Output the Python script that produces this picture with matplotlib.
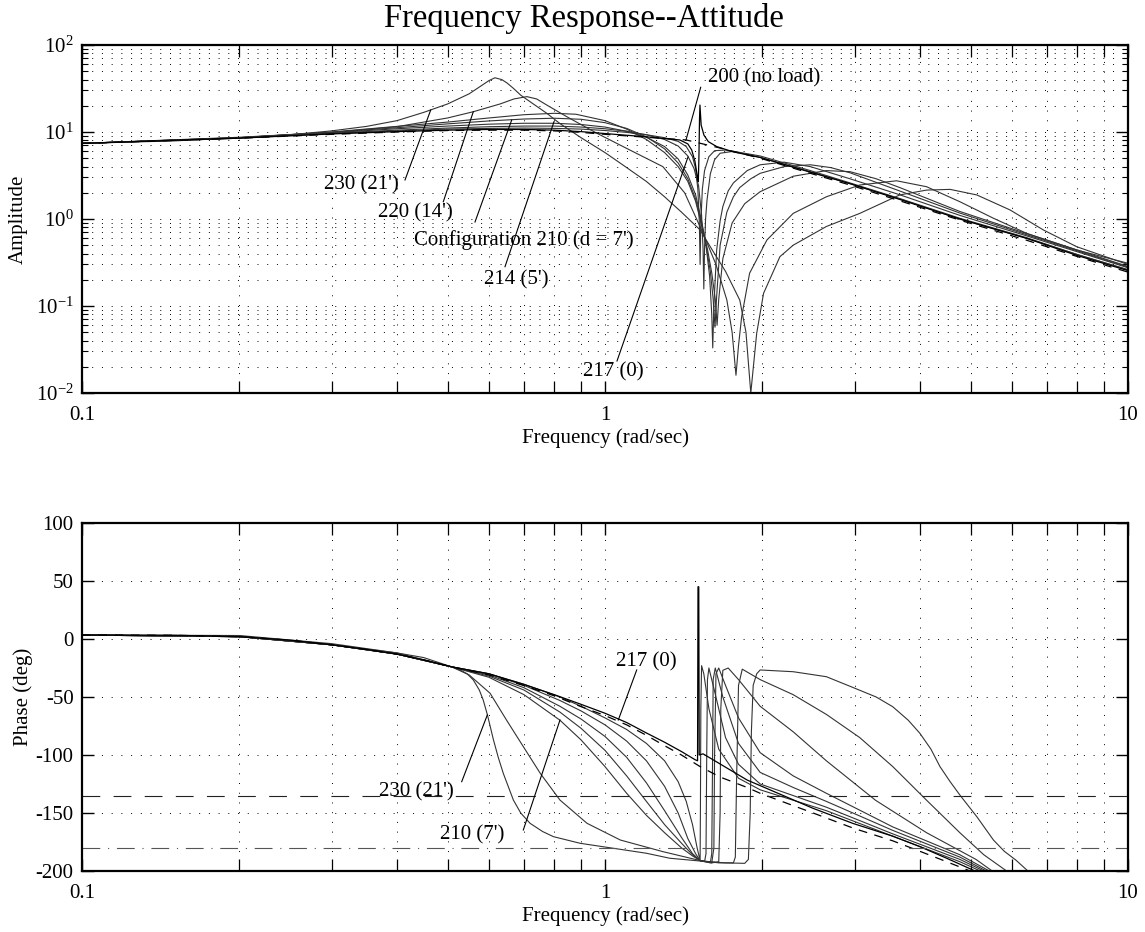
import numpy as np
import matplotlib
matplotlib.use("Agg")
import matplotlib.pyplot as plt
from matplotlib.ticker import FixedLocator, NullFormatter, LogLocator

plt.rcParams['font.family'] = ['Liberation Serif', 'DejaVu Serif']
plt.rcParams['mathtext.fontset'] = 'custom'
plt.rcParams['mathtext.rm'] = 'Liberation Serif'
plt.rcParams['mathtext.default'] = 'regular'
plt.rcParams['axes.unicode_minus'] = False

# ---------------- amplitude data ----------------
amp_noload_f = [0.1, 0.15, 0.2, 0.3, 0.4, 0.5, 0.6, 0.7, 0.8, 0.9, 1.0, 1.2, 1.43, 1.65, 1.98, 2.47, 2.94, 3.66, 4.77, 6.4, 8.0, 10]
amp_noload_a = [7.4, 8.0, 8.5, 9.4, 10.0, 10.4, 10.5, 10.5, 10.3, 9.9, 9.4, 8.7, 8.1, 6.6, 5.0, 3.35, 2.46, 1.62, 0.97, 0.57, 0.37, 0.245]

amp_217_f = [0.1, 0.2, 0.3, 0.4, 0.5, 0.6, 0.7, 0.8, 0.9, 1.0, 1.2, 1.39, 1.44, 1.465, 1.486, 1.502, 1.508, 1.512, 1.516, 1.519, 1.527, 1.546, 1.576, 1.635, 1.76, 1.98, 2.47, 2.94, 3.66, 4.77, 6.4, 8.0, 10]
amp_217_a = [7.4, 8.5, 9.5, 10.1, 10.5, 10.7, 10.7, 10.5, 10.1, 9.6, 8.8, 8.1, 7.3, 6.2, 4.6, 3.06, 2.69, 5.0, 14.0, 20.4, 12.0, 9.2, 7.75, 6.8, 5.9, 5.1, 3.45, 2.55, 1.68, 1.0, 0.6, 0.38, 0.255]

amp_1_f = [0.1, 0.2, 0.3, 0.4, 0.5, 0.6, 0.7, 0.8, 0.9, 1.0, 1.1, 1.2, 1.3, 1.38, 1.43, 1.47, 1.49, 1.505, 1.515, 1.52, 1.525, 1.535, 1.55, 1.58, 1.62, 1.7, 1.8, 1.98, 2.47, 2.94, 3.66, 4.77, 6.4, 8.0, 10]
amp_1_a = [7.4, 8.5, 9.6, 10.3, 10.8, 11.0, 11.1, 11.0, 10.8, 10.4, 9.9, 9.3, 8.6, 7.8, 6.8, 5.2, 3.8, 2.2, 0.9, 0.30, 0.9, 2.2, 3.6, 5.2, 6.1, 6.2, 5.8, 5.1, 3.5, 2.55, 1.7, 1.0, 0.6, 0.39, 0.26]

amp_2_f = [0.1, 0.2, 0.3, 0.4, 0.5, 0.6, 0.7, 0.8, 0.9, 1.0, 1.1, 1.2, 1.3, 1.38, 1.44, 1.48, 1.51, 1.53, 1.54, 1.545, 1.55, 1.557, 1.567, 1.59, 1.62, 1.66, 1.76, 1.98, 2.47, 2.94, 3.66, 4.77, 6.4, 8.0, 10]
amp_2_a = [7.4, 8.5, 9.7, 10.5, 11.1, 11.5, 11.7, 11.7, 11.4, 10.9, 10.2, 9.3, 8.2, 6.9, 5.3, 3.8, 2.4, 1.1, 0.45, 0.157, 0.45, 1.0, 1.65, 3.3, 4.8, 5.7, 6.0, 5.3, 3.6, 2.6, 1.72, 1.02, 0.61, 0.39, 0.262]

amp_3_f = [0.1, 0.2, 0.3, 0.4, 0.5, 0.6, 0.7, 0.8, 0.9, 1.0, 1.1, 1.2, 1.3, 1.38, 1.44, 1.49, 1.53, 1.56, 1.585, 1.6, 1.607, 1.615, 1.635, 1.66, 1.68, 1.72, 1.76, 1.87, 1.98, 2.2, 2.47, 2.94, 3.66, 4.77, 6.4, 8.0, 10]
amp_3_a = [7.4, 8.6, 9.8, 10.9, 11.7, 12.3, 12.6, 12.6, 12.2, 11.4, 10.2, 8.7, 6.8, 4.9, 3.2, 1.9, 0.95, 0.5, 0.22, 0.08, 0.033, 0.1, 0.44, 0.95, 1.39, 2.1, 2.6, 3.6, 4.2, 4.5, 4.0, 2.9, 1.9, 1.1, 0.64, 0.42, 0.275]

amp_214_f = [0.1, 0.2, 0.3, 0.4, 0.5, 0.6, 0.7, 0.8, 0.9, 1.0, 1.1, 1.2, 1.3, 1.38, 1.44, 1.49, 1.53, 1.56, 1.59, 1.61, 1.623, 1.635, 1.66, 1.71, 1.76, 1.81, 1.9, 1.98, 2.2, 2.47, 2.7, 2.94, 3.66, 4.77, 6.4, 8.0, 10]
amp_214_a = [7.4, 8.6, 9.9, 11.2, 12.4, 13.4, 14.1, 14.4, 14.0, 12.8, 11.0, 8.8, 6.4, 4.4, 2.9, 1.7, 0.9, 0.5, 0.25, 0.12, 0.057, 0.13, 0.5, 1.2, 1.8, 2.3, 2.9, 3.35, 4.0, 4.2, 3.9, 3.4, 2.1, 1.17, 0.66, 0.43, 0.28]

amp_210_f = [0.1, 0.2, 0.3, 0.4, 0.5, 0.6, 0.7, 0.8, 0.88, 1.0, 1.1, 1.2, 1.3, 1.38, 1.44, 1.49, 1.53, 1.57, 1.6, 1.625, 1.638, 1.65, 1.68, 1.75, 1.85, 1.98, 2.29, 2.65, 2.94, 3.3, 3.66, 4.77, 6.4, 8.0, 10]
amp_210_a = [7.4, 8.6, 10.0, 11.6, 13.0, 14.5, 15.8, 16.4, 16.0, 13.5, 10.8, 8.2, 5.8, 4.0, 2.7, 1.6, 0.85, 0.45, 0.24, 0.12, 0.06, 0.12, 0.35, 0.9, 1.5, 2.06, 3.1, 3.6, 3.5, 2.9, 2.3, 1.22, 0.68, 0.44, 0.285]

amp_220_f = [0.1, 0.2, 0.3, 0.4, 0.5, 0.56, 0.63, 0.67, 0.709, 0.74, 0.774, 0.845, 0.964, 1.116, 1.29, 1.42, 1.54, 1.63, 1.71, 1.75, 1.78, 1.80, 1.825, 1.89, 2.04, 2.29, 2.65, 3.07, 3.61, 4.12, 4.77, 5.53, 6.4, 7.98, 10]
amp_220_a = [7.4, 8.7, 9.9, 11.5, 14.5, 17.1, 21.0, 24.0, 25.5, 24.0, 20.4, 15.0, 9.7, 6.2, 4.0, 2.0, 0.685, 0.3, 0.117, 0.05, 0.016, 0.035, 0.075, 0.238, 0.574, 1.16, 1.8, 2.46, 2.75, 2.35, 1.58, 1.02, 0.684, 0.44, 0.31]

amp_230_f = [0.1, 0.15, 0.2, 0.25, 0.3, 0.35, 0.4, 0.45, 0.5, 0.55, 0.58, 0.6, 0.616, 0.635, 0.65, 0.668, 0.69, 0.719, 0.774, 0.82, 0.9, 1.0, 1.1, 1.2, 1.3, 1.4, 1.52, 1.6, 1.7, 1.81, 1.86, 1.9, 1.95, 2.01, 2.16, 2.29, 2.65, 3.07, 3.66, 4.12, 4.57, 5.14, 5.95, 6.89, 7.98, 10]
amp_230_a = [7.4, 7.9, 8.6, 9.3, 10.3, 11.6, 13.5, 16.8, 21.0, 27.5, 34.0, 39.0, 42.0, 40.0, 36.5, 31.8, 26.5, 22.3, 16.4, 12.5, 8.6, 5.8, 3.9, 2.7, 1.8, 1.2, 0.75, 0.45, 0.25, 0.117, 0.05, 0.01, 0.0485, 0.14, 0.369, 0.5, 0.82, 1.16, 1.89, 2.15, 2.19, 1.89, 1.27, 0.748, 0.48, 0.3]

# ---------------- phase data (deg) ----------------
ph_noload_f = [0.1, 0.15, 0.2, 0.25, 0.3, 0.35, 0.4, 0.45, 0.509, 0.6, 0.698, 0.8, 0.896, 1.0, 1.1, 1.2, 1.3, 1.4, 1.52, 1.66, 1.87, 1.98, 2.09, 2.5, 2.98, 3.55, 4.0, 4.5, 4.99]
ph_noload_p = [3.4, 3.2, 2.0, -1.0, -5.0, -9.0, -13.0, -18.0, -24.0, -31.0, -40.0, -49.0, -58.0, -66.0, -74.0, -83.0, -92.0, -100.0, -110.0, -119.0, -128.0, -133.0, -137.0, -150.0, -163.0, -174.0, -183.0, -192.0, -200.0]

ph_217_f = [0.1, 0.15, 0.2, 0.25, 0.3, 0.35, 0.4, 0.45, 0.509, 0.6, 0.698, 0.8, 0.896, 1.0, 1.1, 1.2, 1.3, 1.4, 1.486, 1.503, 1.506, 1.511, 1.514, 1.54, 1.87, 2.5, 2.98, 3.55, 4.0, 4.5, 5.1]
ph_217_p = [3.4, 3.2, 2.0, -1.0, -5.0, -9.0, -13.0, -18.0, -24.0, -30.0, -39.0, -48.0, -56.0, -64.0, -72.0, -81.0, -89.0, -97.0, -104.0, -105.0, 45.0, 45.0, -100.0, -99.0, -121.6, -146.0, -159.0, -170.0, -179.0, -189.0, -200.0]

ph_1_f = [0.1, 0.2, 0.3, 0.4, 0.509, 0.6, 0.7, 0.82, 0.9, 1.0, 1.1, 1.2, 1.3, 1.38, 1.43, 1.47, 1.5, 1.52, 1.522, 1.525, 1.53, 1.545, 1.58, 1.65, 1.8, 1.98, 2.65, 3.55, 4.77, 5.22]
ph_1_p = [3.4, 2.0, -5.0, -13.0, -24.0, -30.0, -39.0, -50.0, -58.0, -68.0, -78.0, -90.0, -105.0, -123.0, -140.0, -160.0, -180.0, -191.0, -150.0, -60.0, -23.0, -30.0, -60.0, -95.0, -120.0, -130.0, -148.0, -170.0, -192.0, -200.0]

ph_2_f = [0.1, 0.2, 0.3, 0.4, 0.509, 0.6, 0.7, 0.82, 0.9, 1.0, 1.1, 1.2, 1.3, 1.38, 1.44, 1.49, 1.52, 1.55, 1.56, 1.565, 1.57, 1.58, 1.62, 1.7, 1.8, 1.98, 2.65, 3.55, 4.77, 5.3]
ph_2_p = [3.4, 2.0, -5.0, -13.0, -24.0, -30.0, -40.0, -53.0, -62.0, -74.0, -88.0, -105.0, -127.0, -150.0, -172.0, -185.0, -191.0, -192.0, -185.0, -100.0, -35.0, -25.0, -45.0, -85.0, -108.0, -125.0, -145.0, -168.0, -190.0, -200.0]

ph_3_f = [0.1, 0.2, 0.3, 0.4, 0.509, 0.6, 0.7, 0.82, 0.9, 1.0, 1.1, 1.2, 1.3, 1.4, 1.47, 1.52, 1.59, 1.6, 1.606, 1.61, 1.625, 1.68, 1.8, 1.98, 2.29, 2.65, 3.55, 4.77, 5.36]
ph_3_p = [3.4, 2.0, -5.0, -13.0, -24.0, -31.0, -42.0, -58.0, -69.0, -84.0, -102.0, -124.0, -148.0, -171.0, -185.0, -191.0, -193.0, -185.0, -100.0, -35.0, -25.0, -50.0, -90.0, -115.0, -128.0, -140.0, -165.0, -188.0, -200.0]

ph_214_f = [0.1, 0.2, 0.3, 0.4, 0.509, 0.6, 0.7, 0.82, 0.9, 1.0, 1.1, 1.2, 1.3, 1.4, 1.47, 1.52, 1.6, 1.615, 1.62, 1.63, 1.65, 1.7, 1.8, 1.98, 2.29, 2.65, 3.55, 4.77, 5.43]
ph_214_p = [3.4, 2.0, -5.0, -13.0, -24.0, -32.0, -44.0, -63.0, -77.0, -96.0, -118.0, -140.0, -160.0, -176.0, -186.0, -191.0, -193.0, -180.0, -100.0, -30.0, -25.0, -40.0, -68.0, -98.0, -118.0, -133.0, -162.0, -186.0, -200.0]

ph_210_f = [0.1, 0.2, 0.3, 0.4, 0.509, 0.6, 0.7, 0.82, 0.9, 1.0, 1.1, 1.2, 1.3, 1.4, 1.47, 1.52, 1.6, 1.65, 1.66, 1.665, 1.68, 1.72, 1.8, 1.98, 2.29, 2.65, 3.29, 4.12, 5.12, 5.5]
ph_210_p = [3.4, 2.0, -5.0, -13.0, -24.0, -33.0, -48.0, -70.0, -87.0, -110.0, -133.0, -152.0, -167.0, -180.0, -187.0, -191.0, -193.0, -192.0, -150.0, -60.0, -27.0, -25.0, -35.0, -58.0, -80.0, -105.0, -139.0, -167.0, -190.0, -200.0]

ph_220_f = [0.1, 0.2, 0.3, 0.4, 0.509, 0.55, 0.603, 0.648, 0.698, 0.752, 0.82, 0.924, 1.07, 1.29, 1.52, 1.65, 1.76, 1.775, 1.785, 1.80, 1.83, 1.98, 2.29, 2.65, 3.07, 3.55, 4.12, 4.77, 5.3, 5.86]
ph_220_p = [3.4, 2.5, -5.0, -12.0, -24.0, -31.0, -46.8, -69.8, -92.8, -115.8, -138.8, -158.9, -173.3, -183.3, -191.0, -193.0, -193.0, -188.0, -120.0, -40.0, -26.0, -35.0, -48.0, -65.0, -85.0, -110.0, -139.0, -167.0, -186.0, -200.0]

ph_230_f = [0.1, 0.2, 0.3, 0.4, 0.45, 0.509, 0.53, 0.545, 0.56, 0.575, 0.585, 0.596, 0.612, 0.625, 0.639, 0.668, 0.69, 0.719, 0.76, 0.797, 0.896, 1.037, 1.2, 1.33, 1.52, 1.7, 1.85, 1.88, 1.895, 1.905, 1.92, 1.95, 1.98, 2.29, 2.65, 2.95, 3.3, 3.55, 3.8, 4.0, 4.2, 4.37, 4.57, 4.77, 5.14, 5.53, 5.8, 6.1, 6.4]
ph_230_p = [3.4, 3.0, -4.0, -12.0, -16.0, -24.0, -27.0, -30.0, -35.3, -44.0, -52.6, -65.5, -87.0, -102.0, -115.8, -138.8, -150.0, -158.9, -166.0, -170.4, -176.1, -180.4, -184.7, -189.0, -191.4, -193.0, -193.4, -190.0, -150.0, -80.0, -40.0, -30.0, -26.7, -28.2, -32.5, -41.0, -50.0, -58.4, -70.0, -81.3, -95.0, -110.0, -123.0, -134.5, -153.2, -173.3, -183.0, -190.5, -199.0]

phase_ref_dashed = -135
phase_ref_dashdot = -180

label_texts_top = ["230 (21')", "220 (14')", "Configuration 210 (d = 7')", "214 (5')", "217 (0)", "200 (no load)"]
label_texts_bot = ["217 (0)", "230 (21')", "210 (7')"]

W, H = 1145, 932
SOLID = '#333333'

fig = plt.figure(figsize=(W / 100, H / 100), dpi=100)
ax1 = fig.add_axes([82 / W, 1 - 393 / H, 1046 / W, 348 / H])
ax2 = fig.add_axes([82 / W, 1 - 871 / H, 1046 / W, 348 / H])

dot_grid = dict(color='black', linestyle=(0, (1, 9)), linewidth=0.7)

# amplitude panel
for f, a in [(amp_230_f, amp_230_a), (amp_220_f, amp_220_a), (amp_210_f, amp_210_a),
             (amp_214_f, amp_214_a), (amp_3_f, amp_3_a), (amp_2_f, amp_2_a), (amp_1_f, amp_1_a)]:
    ax1.plot(f, a, color=SOLID, lw=0.8)
ax1.plot(amp_217_f, amp_217_a, color='black', lw=0.9)
ax1.plot(amp_noload_f, amp_noload_a, color='black', lw=0.9, linestyle=(0, (7, 6)))
ax1.set_xscale('log')
ax1.set_yscale('log')
ax1.set_xlim(0.1, 10)
ax1.set_ylim(0.01, 100)

# phase panel
for f, p in [(ph_230_f, ph_230_p), (ph_220_f, ph_220_p), (ph_210_f, ph_210_p),
             (ph_214_f, ph_214_p), (ph_3_f, ph_3_p), (ph_2_f, ph_2_p), (ph_1_f, ph_1_p)]:
    ax2.plot(f, p, color=SOLID, lw=0.8)
ax2.plot(ph_217_f, ph_217_p, color='black', lw=0.9)
ax2.plot(ph_noload_f, ph_noload_p, color='black', lw=0.9, linestyle=(0, (7, 6)))
ax2.axhline(phase_ref_dashed, color='#222222', lw=0.8, linestyle=(0, (16, 12)))
ax2.axhline(phase_ref_dashdot, color='#555555', lw=0.8, linestyle=(0, (16, 7, 1, 7)))
ax2.set_xscale('log')
ax2.set_xlim(0.1, 10)
ax2.set_ylim(-200, 100)
ax2.set_yticks(np.arange(-200, 101, 50))

for ax in (ax1, ax2):
    ax.xaxis.set_major_locator(FixedLocator([0.1, 1, 10]))
    ax.set_xticklabels(['0.1', '1', '10'])
    ax.xaxis.set_minor_locator(LogLocator(base=10, subs=np.arange(2, 10)))
    ax.xaxis.set_minor_formatter(NullFormatter())
    ax.tick_params(which='both', direction='in', top=True, right=True, labelsize=15)
    ax.tick_params(axis='x', which='major', pad=9)
    ax.tick_params(axis='y', which='major', pad=6)
    ax.tick_params(which='major', length=8.5, width=1.0)
    ax.tick_params(axis='x', which='minor', length=8.5, width=0.9)
    for s in ax.spines.values():
        s.set_linewidth(1.6)
    ax.set_xlabel('Frequency (rad/sec)', fontsize=15, labelpad=3)
    ax.grid(True, which='major', **dot_grid)
    ax.grid(True, which='minor', axis='x', **dot_grid)

ax1.yaxis.set_minor_locator(LogLocator(base=10, subs=np.arange(2, 10)))
ax1.yaxis.set_minor_formatter(NullFormatter())
ax1.tick_params(axis='y', which='minor', length=4, width=0.8)
ax1.grid(True, which='minor', axis='y', **dot_grid)
ax1.set_ylabel('Amplitude', fontsize=15, labelpad=6)
ax2.set_ylabel('Phase (deg)', fontsize=15, labelpad=2)
fig.text(584 / W, 1 - 19 / H, 'Frequency Response--Attitude', fontsize=23.5, ha='center', va='center')


def px(x, y):
    # reference pixel (from top-left) -> figure fraction
    return (x / W, 1 - y / H)


def note(text, center, start, end):
    fig.text(*px(*center), text, fontsize=15, ha='center', va='center')
    fig.add_artist(plt.Line2D([start[0] / W, end[0] / W], [1 - start[1] / H, 1 - end[1] / H],
                              color='black', lw=0.8, transform=fig.transFigure))


note(label_texts_top[0], (361, 185), (405, 180), (430.7, 110))
note(label_texts_top[1], (415, 213), (443.3, 201.7), (473.3, 111.7))
note(label_texts_top[2], (524, 240), (475, 222), (511.7, 120))
note(label_texts_top[3], (516, 280), (505, 266.7), (554, 121.7))
note(label_texts_top[4], (613, 372), (617, 361), (688, 157))
note(label_texts_top[5], (764, 78), (700.7, 87.3), (686, 140))

note(label_texts_bot[0], (646, 662), (636.7, 670), (618.3, 720))
note(label_texts_bot[1], (416, 792), (461.7, 781.7), (487.3, 715))
note(label_texts_bot[2], (472.5, 835), (523.3, 830), (560, 720))

fig.savefig('out.png', dpi=100)
